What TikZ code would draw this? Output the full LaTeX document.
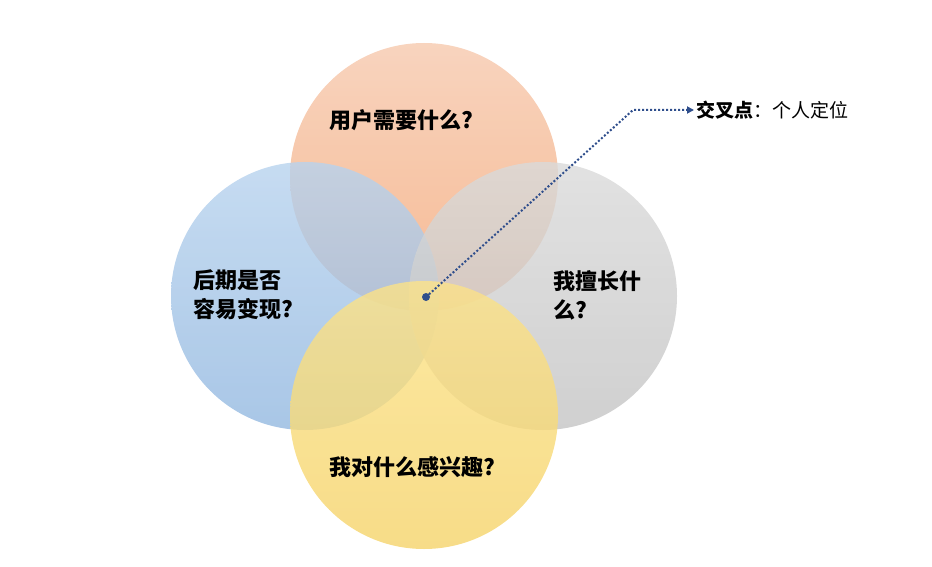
\documentclass[tikz,border=0pt]{standalone}
\usepackage{fontspec}
\setmainfont{Noto Sans CJK SC}
\usetikzlibrary{arrows.meta}
\definecolor{o1}{HTML}{F6C9AE}\definecolor{o2}{HTML}{F4A878}
\definecolor{b1}{HTML}{B8D3EE}\definecolor{b2}{HTML}{93B8E0}
\definecolor{g1}{HTML}{DADADA}\definecolor{g2}{HTML}{C4C4C4}
\definecolor{y1}{HTML}{FCE389}\definecolor{y2}{HTML}{F5D36A}
\definecolor{navy}{HTML}{2F4E8C}
\begin{document}
\begin{tikzpicture}[x=1pt,y=-1pt,
  circ/.style={circle,minimum size=268pt,inner sep=0pt,fill opacity=0.8,draw=none},
  lab/.style={font=\bfseries\fontsize{22}{29}\selectfont,align=left,text=black}]
\useasboundingbox (0,0) rectangle (932,567);
\node[circ,top color=o1,bottom color=o2] (top) at (424,177) {};
\node[circ,top color=b1,bottom color=b2] (left) at (305,296) {};
\node[circ,top color=g1,bottom color=g2] (right) at (543,296) {};
\node[circ,top color=y1,bottom color=y2] (bot) at (424,415) {};
\node[lab] (t1) at (401,120) {用户需要什么?};
\node[lab,anchor=west] (t2) at (190,295) {后期是否\\容易变现?};
\node[lab,anchor=west] (t3) at (550,295) {我擅长什\\么?};
\node[lab] (t4) at (412,467) {我对什么感兴趣?};
\fill[navy] (426,297) circle (4pt) coordinate (dot);
\coordinate (bend) at (633,110);
\node[anchor=west,font=\fontsize{19}{22}\selectfont,inner sep=2pt] (lbl) at (694,110) {\textbf{交叉点}：个人定位};
\draw[navy,line width=2pt,dotted,-{Triangle[length=7pt,width=7pt]}] (dot) -- (bend) -- (lbl.west);
\end{tikzpicture}
\end{document}
